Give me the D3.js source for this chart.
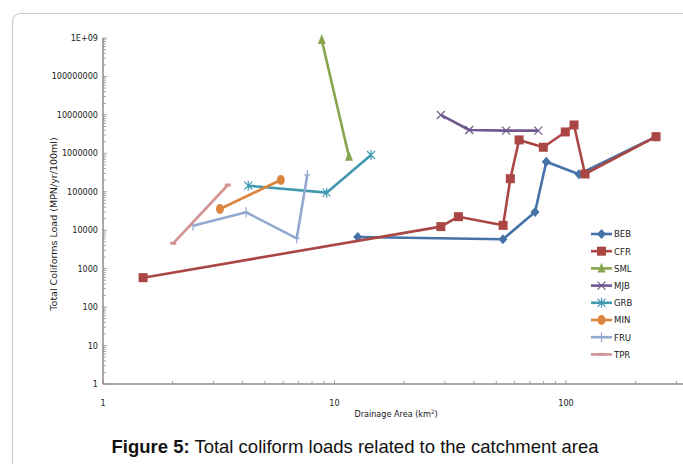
<!DOCTYPE html>
<html>
<head>
<meta charset="utf-8">
<script src="https://cdn.jsdelivr.net/npm/d3@7"></script>
<style>
  html, body { margin: 0; padding: 0; background: #fff; }
  svg { display: block; }
</style>
</head>
<body>
<svg id="chart" width="683" height="464"></svg>
<script>
// ---- Data ----
const categories = ["BEB", "CFR", "SML", "MJB", "GRB", "MIN", "FRU", "TPR"];
const colors = ["#4572A7", "#AA4643", "#89A54E", "#71588F", "#4198AF", "#DB843D", "#93A9CF", "#D19392"];
const markers = ["diamond", "square", "triangle", "x", "star", "circle", "plus", "dash"];

const bebArea = [12.6, 53.4, 73.5, 82.2, 113.8, 244.8];
const bebLoad = [6670, 5810, 29800, 607000, 285000, 2710000];

const cfrArea = [1.49, 28.8, 34.3, 53.5, 57.5, 62.7, 79.8, 99.3, 108.3, 120.8, 244.8];
const cfrLoad = [583, 12400, 22500, 13400, 219000, 2230000, 1440000, 3600000, 5470000, 290000, 2710000];

const smlArea = [8.81, 11.55];
const smlLoad = [890000000, 818000];

const mjbArea = [28.8, 38.2, 55.1, 75.9];
const mjbLoad = [9950000, 4050000, 3890000, 3890000];

const grbArea = [4.24, 9.25, 14.38];
const grbLoad = [144000, 94800, 906000];

const minArea = [3.20, 5.86];
const minLoad = [35700, 203000];

const fruArea = [2.45, 4.15, 6.87, 7.63];
const fruLoad = [13100, 29300, 6170, 274000];

const tprArea = [2.01, 3.46];
const tprLoad = [4570, 150000];

const xTickValues = [1, 10, 100, 1000];
const yTickLabels = ["1", "10", "100", "1000", "10000", "100000", "1000000", "10000000", "100000000", "1E+09"];
const xTitle = "Drainage Area (km";
const yTitle = "Total Coliforms Load (MPN/yr/100ml)";
const captionBold = "Figure 5:";
const captionRest = " Total coliform loads related to the catchment area";

const seriesArea = [bebArea, cfrArea, smlArea, mjbArea, grbArea, minArea, fruArea, tprArea];
const seriesLoad = [bebLoad, cfrLoad, smlLoad, mjbLoad, grbLoad, minLoad, fruLoad, tprLoad];

// ---- Chart ----
const svg = d3.select("#chart");
const axisColor = "#8c8c8c";
const tickFont = "'DejaVu Sans Condensed', 'DejaVu Sans', sans-serif";

// outer rounded frame (cropped at right and bottom)
svg.append("rect")
  .attr("x", 12.5).attr("y", 13.5)
  .attr("width", 720).attr("height", 480)
  .attr("rx", 8).attr("ry", 8)
  .attr("fill", "none").attr("stroke", "#c8c8c8").attr("stroke-width", 1.2);

const x = d3.scaleLog().domain([1, 1000]).range([103, 103 + 3 * 231.5]);
const y = d3.scaleLog().domain([1, 1e9]).range([384, 38]);

// minor ticks
const yMinor = [];
for (let e = 0; e < 9; e++) for (let m = 2; m <= 9; m++) yMinor.push(m * Math.pow(10, e));
const xMinor = [];
for (let e = 0; e < 3; e++) for (let m = 2; m <= 9; m++) xMinor.push(m * Math.pow(10, e));

const axes = svg.append("g");
axes.selectAll("line.ymin").data(yMinor).join("line")
  .attr("x1", x(1)).attr("x2", x(1) + 3)
  .attr("y1", d => y(d)).attr("y2", d => y(d))
  .attr("stroke", axisColor).attr("stroke-width", 0.8);
axes.selectAll("line.ymaj").data(d3.range(10).map(e => Math.pow(10, e))).join("line")
  .attr("x1", x(1)).attr("x2", x(1) + 4)
  .attr("y1", d => y(d)).attr("y2", d => y(d))
  .attr("stroke", axisColor).attr("stroke-width", 0.8);
axes.selectAll("line.xmin").data(xMinor).join("line")
  .attr("x1", d => x(d)).attr("x2", d => x(d))
  .attr("y1", y(1)).attr("y2", y(1) - 3)
  .attr("stroke", axisColor).attr("stroke-width", 0.8);
axes.selectAll("line.xmaj").data(xTickValues).join("line")
  .attr("x1", d => x(d)).attr("x2", d => x(d))
  .attr("y1", y(1)).attr("y2", y(1) - 4)
  .attr("stroke", axisColor).attr("stroke-width", 0.8);
axes.append("line").attr("x1", x(1)).attr("x2", x(1)).attr("y1", y(1e9)).attr("y2", y(1))
  .attr("stroke", axisColor).attr("stroke-width", 1.5);
axes.append("line").attr("x1", x(1)).attr("x2", 700).attr("y1", y(1)).attr("y2", y(1))
  .attr("stroke", axisColor).attr("stroke-width", 1.5);

// tick labels
svg.append("g").selectAll("text").data(yTickLabels).join("text")
  .attr("x", 98).attr("y", (d, i) => y(Math.pow(10, i)) + 3)
  .attr("text-anchor", "end")
  .attr("font-family", tickFont).attr("font-size", 9).attr("fill", "#1a1a1a")
  .text(d => d);
svg.append("g").selectAll("text").data(xTickValues.slice(0, 3)).join("text")
  .attr("x", d => x(d)).attr("y", 406)
  .attr("text-anchor", "middle")
  .attr("font-family", tickFont).attr("font-size", 9).attr("fill", "#1a1a1a")
  .text(d => d);

// axis titles
const xt = svg.append("text").attr("x", 396).attr("y", 417)
  .attr("text-anchor", "middle")
  .attr("font-family", tickFont).attr("font-size", 9).attr("fill", "#1a1a1a");
xt.append("tspan").text(xTitle);
xt.append("tspan").attr("dy", -3).attr("font-size", 6).text("2");
xt.append("tspan").attr("dy", 3).text(")");

svg.append("text")
  .attr("transform", "translate(57,224) rotate(-90)")
  .attr("text-anchor", "middle")
  .attr("font-family", "'DejaVu Sans', sans-serif").attr("font-size", 9.5).attr("fill", "#1a1a1a")
  .text(yTitle);

// marker drawing
function drawMarker(g, type, color, cx, cy) {
  const s = g.append("g").attr("transform", `translate(${cx},${cy})`);
  switch (type) {
    case "diamond":
      s.append("path").attr("d", "M0,-5L4.5,0L0,5L-4.5,0Z").attr("fill", color);
      break;
    case "square":
      s.append("rect").attr("x", -4.5).attr("y", -4.5).attr("width", 9).attr("height", 9).attr("fill", color);
      break;
    case "triangle":
      s.append("path").attr("d", "M0,-6L4,4L-4,4Z").attr("fill", color);
      break;
    case "x":
      s.append("path").attr("d", "M-4,-4L4,4M4,-4L-4,4").attr("stroke", color).attr("stroke-width", 1.2).attr("fill", "none");
      break;
    case "star":
      s.append("path").attr("d", "M-4,-4L4,4M4,-4L-4,4M0,-5L0,5").attr("stroke", color).attr("stroke-width", 1.2).attr("fill", "none");
      break;
    case "circle":
      s.append("ellipse").attr("rx", 4).attr("ry", 5).attr("fill", color);
      break;
    case "plus":
      s.append("path").attr("d", "M0,-5L0,5M-3,0L3,0").attr("stroke", color).attr("stroke-width", 1.2).attr("fill", "none");
      break;
    case "dash":
      s.append("path").attr("d", "M-3,0L3,0").attr("stroke", color).attr("stroke-width", 3).attr("fill", "none");
      break;
  }
}

const line = d3.line().x(d => x(d[0])).y(d => y(d[1]));
const plot = svg.append("g");
categories.forEach((name, i) => {
  const pts = seriesArea[i].map((a, j) => [a, seriesLoad[i][j]]);
  const g = plot.append("g");
  g.append("path").datum(pts).attr("d", line)
    .attr("fill", "none").attr("stroke", colors[i]).attr("stroke-width", 2.6)
    .attr("stroke-linejoin", "round");
  pts.forEach(p => drawMarker(g, markers[i], colors[i], x(p[0]), y(p[1])));
});

// legend
const legend = svg.append("g");
categories.forEach((name, i) => {
  const ly = 234 + i * 17.2;
  legend.append("line").attr("x1", 591).attr("x2", 612).attr("y1", ly).attr("y2", ly)
    .attr("stroke", colors[i]).attr("stroke-width", 2.6);
  drawMarker(legend, markers[i], colors[i], 601.5, ly);
  legend.append("text").attr("x", 614).attr("y", ly + 3.3)
    .attr("font-family", tickFont).attr("font-size", 9.5).attr("fill", "#1a1a1a")
    .text(name);
});

// caption
const cap = svg.append("text").attr("x", 355).attr("y", 453)
  .attr("text-anchor", "middle")
  .attr("font-family", "'Liberation Sans', Arial, sans-serif").attr("font-size", 18.5).attr("fill", "#111");
cap.append("tspan").attr("font-weight", "bold").text(captionBold);
cap.append("tspan").text(captionRest);
</script>
</body>
</html>
